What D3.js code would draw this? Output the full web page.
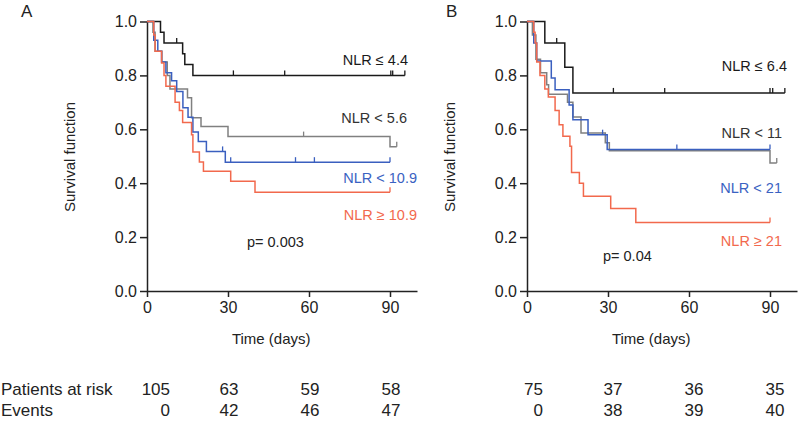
<!DOCTYPE html>
<html>
<head>
<meta charset="utf-8">
<script src="https://cdn.jsdelivr.net/npm/d3@7"></script>
<style>
  body { margin: 0; background: #fff; }
  svg text { font-family: "Liberation Sans", Arial, sans-serif; fill: #222; }
  .axis path, .axis line { stroke: #222; stroke-width: 1.5; }
  .axis text { font-size: 16px; }
</style>
</head>
<body>
<div id="chart"></div>
<script>
// ---- data ----
var groupsA = ["NLR \u2264 4.4", "NLR < 5.6", "NLR < 10.9", "NLR \u2265 10.9"];
var groupsB = ["NLR \u2264 6.4", "NLR < 11", "NLR < 21", "NLR \u2265 21"];

// panel A step times (days) and survival after each step
var aBlackT = [0, 5, 6.3, 13.2, 14, 17];
var aBlackS = [1, 0.96, 0.92, 0.88, 0.84, 0.80];
var aBlackCens = [11, 32, 51, 90.3, 91, 95.5];

var aGrayT = [0, 2.2, 3, 5.5, 7.5, 8.5, 15, 16.5, 20, 30, 90];
var aGrayS = [1, 0.96, 0.89, 0.85, 0.80, 0.75, 0.717, 0.643, 0.61, 0.573, 0.535];
var aGrayCens = [58, 92.5];

var aBlueT = [0, 2.5, 4, 5.4, 7, 9.1, 11, 13.3, 15.2, 17, 19, 22, 29];
var aBlueS = [1, 0.93, 0.89, 0.85, 0.81, 0.78, 0.74, 0.68, 0.645, 0.59, 0.555, 0.518, 0.478];
var aBlueCens = [28, 31, 55, 62, 90];

var aRedT = [0, 2.5, 3, 5.4, 6.3, 7, 10.4, 12, 13.2, 16.5, 17, 19.4, 20.9, 31, 40];
var aRedS = [1, 0.95, 0.89, 0.846, 0.80, 0.76, 0.70, 0.67, 0.625, 0.58, 0.516, 0.479, 0.444, 0.407, 0.366];
var aRedCens = [90];

// panel B
var bBlackT = [0, 6.6, 14, 17];
var bBlackS = [1, 0.92, 0.83, 0.735];
var bBlackCens = [11, 32, 51, 90, 91, 95.5];

var bGrayT = [0, 2, 3.3, 5, 7.3, 8, 15, 17, 20, 29, 30.5, 90];
var bGrayS = [1, 0.95, 0.86, 0.81, 0.765, 0.73, 0.70, 0.646, 0.586, 0.55, 0.52, 0.475];
var bGrayCens = [92.5];

var bBlueT = [0, 2.5, 3.6, 9, 10.4, 15.6, 17, 22.6, 29.7];
var bBlueS = [1, 0.92, 0.853, 0.79, 0.747, 0.69, 0.635, 0.58, 0.525];
var bBlueCens = [28, 55.5, 90];

var bRedT = [0, 2.5, 3, 3.6, 4.8, 6.6, 7.9, 10.4, 11.9, 13.3, 15.9, 16.5, 19.4, 20.9, 31, 40.3];
var bRedS = [1, 0.96, 0.92, 0.85, 0.80, 0.75, 0.72, 0.67, 0.617, 0.574, 0.537, 0.44, 0.40, 0.352, 0.306, 0.254];
var bRedCens = [90];

var pValueA = "p= 0.003";
var pValueB = "p= 0.04";

var xTicks = [0, 30, 60, 90];
var yTicks = [0, 0.2, 0.4, 0.6, 0.8, 1.0];
var riskTimes = [0, 30, 60, 90];
var riskA = [105, 63, 59, 58];
var eventsA = [0, 42, 46, 47];
var riskB = [75, 37, 36, 35];
var eventsB = [0, 38, 39, 40];

var lineColors = ["#1a1a1a", "#808080", "#3a5fbf", "#f2694d"];
var labelColors = ["#1a1a1a", "#333333", "#3a62c2", "#f2694d"];

// ---- drawing ----
var svg = d3.select("#chart").append("svg")
  .attr("width", 800).attr("height", 429);

var y = d3.scaleLinear().domain([0, 1]).range([291, 21.5]);

function panel(x0, letter, letterX, names, curves, pText, pPos, labelPos) {
  var x = d3.scaleLinear().domain([0, 100]).range([x0, x0 + 270]);

  svg.append("g").attr("class", "axis")
    .attr("transform", "translate(" + x0 + ",0)")
    .call(d3.axisLeft(y).tickValues(yTicks).tickFormat(d3.format(".1f"))
      .tickSize(7).tickSizeOuter(0).tickPadding(3));

  svg.append("g").attr("class", "axis")
    .attr("transform", "translate(0," + y(0) + ")")
    .call(d3.axisBottom(x).tickValues(xTicks).tickSize(6).tickSizeOuter(0).tickPadding(5));

  svg.append("text").attr("x", letterX).attr("y", 17)
    .style("font-size", "17px").text(letter);

  svg.append("text")
    .attr("transform", "translate(" + (x0 - 77) + "," + 157 + ") rotate(-90)")
    .attr("text-anchor", "middle").attr("dy", "0.35em")
    .style("font-size", "15px").text("Survival function");

  svg.append("text").attr("x", x(46)).attr("y", 344)
    .attr("text-anchor", "middle").style("font-size", "15px").text("Time (days)");

  var line = d3.line().curve(d3.curveStepAfter)
    .x(function(d) { return x(d[0]); })
    .y(function(d) { return y(d[1]); });

  curves.forEach(function(c, i) {
    var pts = c.t.map(function(t, k) { return [t, c.s[k]]; });
    var end = d3.max(c.cens);
    pts.push([end, c.s[c.s.length - 1]]);
    svg.append("path").attr("d", line(pts))
      .attr("fill", "none").attr("stroke", lineColors[i]).attr("stroke-width", 1.5);

    c.cens.forEach(function(ct) {
      var idx = d3.bisectRight(c.t, ct) - 1;
      var sv = c.s[idx];
      svg.append("line")
        .attr("x1", x(ct)).attr("x2", x(ct))
        .attr("y1", y(sv)).attr("y2", y(sv) - 5)
        .attr("stroke", lineColors[i]).attr("stroke-width", 1.3);
    });

    svg.append("text").attr("x", labelPos[i][0]).attr("y", labelPos[i][1])
      .attr("text-anchor", "end").style("font-size", "14.5px")
      .style("fill", labelColors[i]).text(names[i]);
  });

  svg.append("text").attr("x", pPos[0]).attr("y", pPos[1])
    .style("font-size", "14.5px").text(pText);

  return x;
}

var xA = panel(147, "A", 21, groupsA, [
  { t: aBlackT, s: aBlackS, cens: aBlackCens },
  { t: aGrayT, s: aGrayS, cens: aGrayCens },
  { t: aBlueT, s: aBlueS, cens: aBlueCens },
  { t: aRedT, s: aRedS, cens: aRedCens }
], pValueA, [247, 247], [[408, 65], [407, 123], [417, 183], [417, 220]]);

var xB = panel(527, "B", 446, groupsB, [
  { t: bBlackT, s: bBlackS, cens: bBlackCens },
  { t: bGrayT, s: bGrayS, cens: bGrayCens },
  { t: bBlueT, s: bBlueS, cens: bBlueCens },
  { t: bRedT, s: bRedS, cens: bRedCens }
], pValueB, [603, 261], [[787, 71], [782, 138], [782, 193], [782, 246]]);

// patients at risk table
svg.append("text").attr("x", 1).attr("y", 395).style("font-size", "17px").text("Patients at risk");
svg.append("text").attr("x", 1).attr("y", 416).style("font-size", "17px").text("Events");

function tableRow(x, vals, row, yPos, firstOff, off) {
  svg.selectAll(".t" + row).data(vals).enter().append("text")
    .attr("class", "t" + row)
    .attr("x", function(d, i) { return i === 0 ? x(riskTimes[i]) + firstOff : x(riskTimes[i]) + off; })
    .attr("y", yPos)
    .attr("text-anchor", function(d, i) { return i === 0 ? "end" : "middle"; })
    .style("font-size", "17px")
    .text(function(d) { return d; });
}
tableRow(xA, riskA, "ra", 395, 23, 1);
tableRow(xA, eventsA, "ea", 416, 23, 1);
tableRow(xB, riskB, "rb", 395, 16, 5);
tableRow(xB, eventsB, "eb", 416, 16, 5);
</script>
</body>
</html>
